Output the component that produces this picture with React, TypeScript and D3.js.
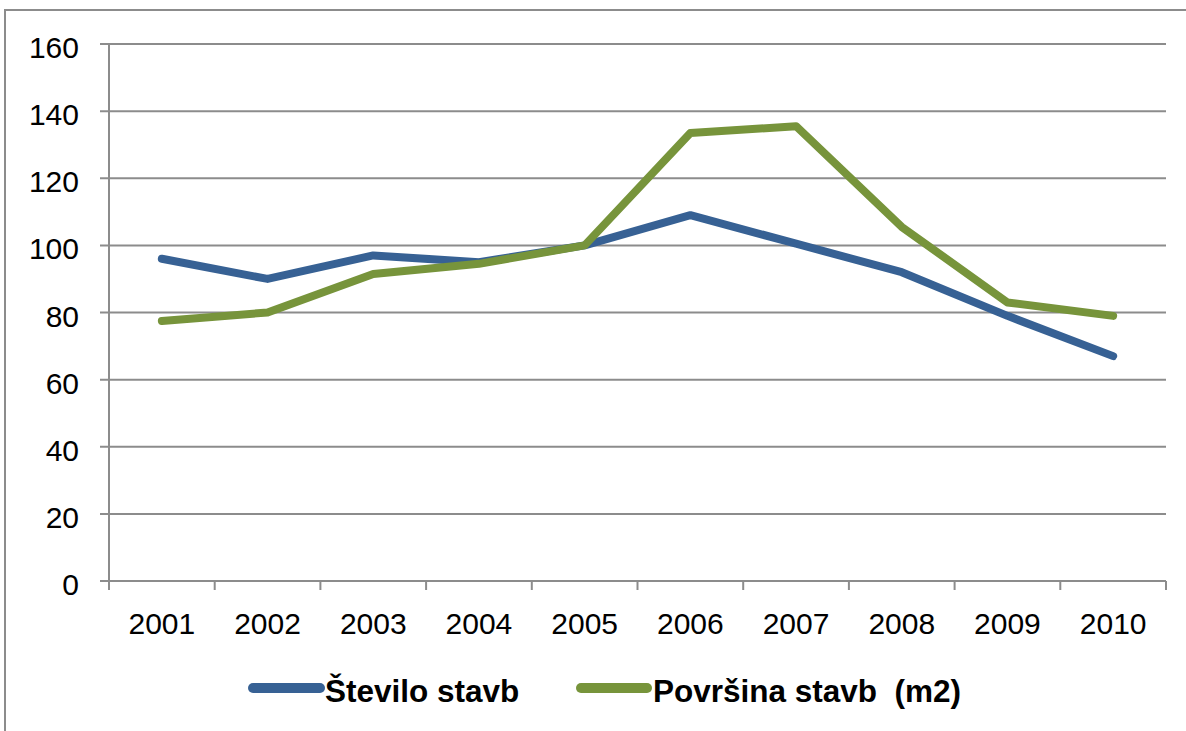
import React from "react";
import * as d3 from "d3";

const years = ["2001","2002","2003","2004","2005","2006","2007","2008","2009","2010"];
const stevilo = [96, 90, 97, 95, 100, 109, 100.5, 92, 79, 67];
const povrsina = [77.5, 80, 91.5, 94.5, 100, 133.5, 135.5, 105.5, 83, 79];
const yTicks = [0, 20, 40, 60, 80, 100, 120, 140, 160];
const seriesNames = ["Število stavb", "Površina stavb  (m2)"];
const colors = ["#376194", "#77943B"];

export default function App() {
  const W = 1186, H = 731;
  const left = 109, right = 1166, top = 44, bottom = 581;
  const x = d3.scaleBand<string>().domain(years).range([left, right]);
  const y = d3.scaleLinear().domain([0, 160]).range([bottom, top]);
  const line = d3.line<number>()
    .x((_, i) => (x(years[i]) as number) + x.bandwidth() / 2)
    .y(d => y(d));
  const font = "'Liberation Sans', Arial, sans-serif";
  const grid = "#8c8c8c";
  const bounds = [...years.map(yr => x(yr) as number), right];
  return (
    <svg width={W} height={H} style={{ position: "absolute", left: 0, top: 0 }} fontFamily={font}>
      <rect x={0} y={0} width={W} height={H} fill="#fff" />
      <rect x={5} y={10} width={W + 20} height={H + 20} fill="none" stroke="#8c8c8c" strokeWidth={2} />
      {yTicks.map(t => (
        <g key={t}>
          <line x1={100} x2={right} y1={y(t)} y2={y(t)} stroke={grid} strokeWidth={2} />
          <text x={79} y={y(t) + 14} fontSize={30} textAnchor="end" fill="#000">{t}</text>
        </g>
      ))}
      <line x1={left} x2={left} y1={top} y2={bottom + 9} stroke={grid} strokeWidth={2} />
      {bounds.map((b, i) => (
        <line key={i} x1={b} x2={b} y1={bottom} y2={bottom + 9} stroke={grid} strokeWidth={2} />
      ))}
      {years.map(yr => (
        <text key={yr} x={(x(yr) as number) + x.bandwidth() / 2} y={634} fontSize={30} textAnchor="middle" fill="#000">{yr}</text>
      ))}
      <path d={line(stevilo) || ""} fill="none" stroke={colors[0]} strokeWidth={8} strokeLinejoin="round" strokeLinecap="round" />
      <path d={line(povrsina) || ""} fill="none" stroke={colors[1]} strokeWidth={8} strokeLinejoin="round" strokeLinecap="round" />
      <line x1={253} x2={320} y1={688} y2={688} stroke={colors[0]} strokeWidth={10} strokeLinecap="round" />
      <text x={325} y={702} fontSize={31.5} fontWeight="bold" fill="#000">{seriesNames[0]}</text>
      <line x1={581} x2={647} y1={688} y2={688} stroke={colors[1]} strokeWidth={10} strokeLinecap="round" />
      <text x={653} y={702} fontSize={31.5} fontWeight="bold" fill="#000" style={{ whiteSpace: "pre" }}>{seriesNames[1]}</text>
    </svg>
  );
}
